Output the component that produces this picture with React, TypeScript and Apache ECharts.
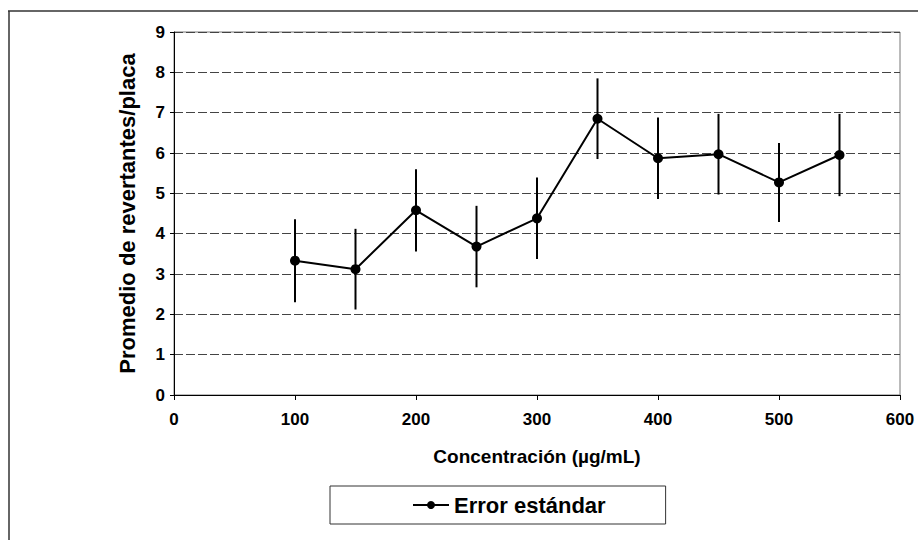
import React, { useEffect, useRef } from "react";
import * as echarts from "echarts";

const concentrations = [100, 150, 200, 250, 300, 350, 400, 450, 500, 550];
const meanRevertants = [3.33, 3.12, 4.58, 3.68, 4.38, 6.85, 5.87, 5.97, 5.27, 5.95];
const standardError = [1.03, 1.0, 1.02, 1.01, 1.01, 1.0, 1.01, 1.0, 0.98, 1.02];
const seriesName = "Error estándar";
const xTitle = "Concentración (µg/mL)";
const yTitle = "Promedio de revertantes/placa";

const FONT = "'Liberation Sans', Arial, sans-serif";

export default function App() {
  const ref = useRef<HTMLDivElement>(null);
  useEffect(() => {
    if (!ref.current) return;
    const chart = echarts.init(ref.current, null, { renderer: "svg" });
    const lineData = concentrations.map((c, i) => [c, meanRevertants[i]]);
    const errData = concentrations.map((c, i) => [
      c,
      meanRevertants[i] - standardError[i],
      meanRevertants[i] + standardError[i],
    ]);
    chart.setOption({
      animation: false,
      backgroundColor: "#fff",
      textStyle: { fontFamily: FONT },
      grid: {
        left: 174,
        right: 18,
        top: 32,
        bottom: 145,
        show: true,
        borderColor: "#777",
        borderWidth: 1,
        backgroundColor: "transparent",
      },
      legend: {
        left: 330,
        top: 486,
        padding: [8, 60, 8, 82],
        borderColor: "#333",
        borderWidth: 1,
        itemWidth: 36,
        itemHeight: 10,
        textStyle: { fontSize: 22, fontWeight: "bold", color: "#000", fontFamily: FONT },
        data: [seriesName],
      },
      xAxis: {
        type: "value",
        min: 0,
        max: 600,
        interval: 100,
        name: xTitle,
        nameLocation: "middle",
        nameGap: 52,
        nameTextStyle: { fontSize: 19, fontWeight: "bold", color: "#000", fontFamily: FONT },
        axisLine: { show: true, lineStyle: { color: "#000", width: 1 } },
        axisTick: { show: true, length: 5, lineStyle: { color: "#000" } },
        axisLabel: { fontSize: 17, fontWeight: "bold", color: "#000", margin: 16, fontFamily: FONT },
        splitLine: { show: false },
      },
      yAxis: {
        type: "value",
        min: 0,
        max: 9,
        interval: 1,
        name: yTitle,
        nameLocation: "middle",
        nameGap: 36,
        nameTextStyle: { fontSize: 22, fontWeight: "bold", color: "#000", fontFamily: FONT },
        axisLine: { show: true, lineStyle: { color: "#000", width: 1 } },
        axisTick: { show: true, length: 4, lineStyle: { color: "#000" } },
        axisLabel: { fontSize: 17, fontWeight: "bold", color: "#000", margin: 9, fontFamily: FONT },
        splitLine: { show: true, lineStyle: { color: "#444", width: 1, type: [9, 3] } },
      },
      graphic: [
        { type: "line", shape: { x1: 8, y1: 11, x2: 918, y2: 11 }, style: { stroke: "#333", lineWidth: 1.5 } },
        { type: "line", shape: { x1: 9, y1: 11, x2: 9, y2: 540 }, style: { stroke: "#333", lineWidth: 1.5 } },
      ],
      series: [
        {
          type: "custom",
          name: "errbars",
          data: errData,
          z: 1,
          renderItem: (params: any, api: any) => {
            const x = api.value(0);
            const p1 = api.coord([x, api.value(1)]);
            const p2 = api.coord([x, api.value(2)]);
            return {
              type: "line",
              shape: { x1: p1[0], y1: p1[1], x2: p2[0], y2: p2[1] },
              style: { stroke: "#000", lineWidth: 2 },
            };
          },
          encode: { x: 0, y: [1, 2] },
        },
        {
          type: "line",
          name: seriesName,
          data: lineData,
          z: 3,
          symbol: "circle",
          symbolSize: 10,
          lineStyle: { color: "#000", width: 2 },
          itemStyle: { color: "#000" },
        },
      ],
    });
    return () => chart.dispose();
  }, []);
  return (
    <div
      ref={ref}
      style={{ position: "absolute", left: 0, top: 0, width: 918, height: 540 }}
    />
  );
}
